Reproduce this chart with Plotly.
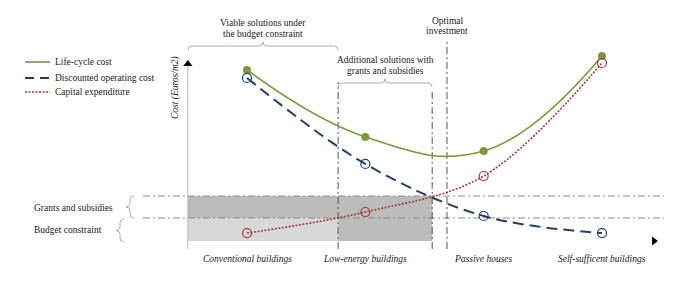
import plotly.graph_objects as go

# ---------------- data ----------------
categories = ["Conventional buildings", "Low-energy buildings",
              "Passive houses", "Self-sufficent buildings"]
life_cycle_cost = [95.0, 57.8, 50.0, 102.8]
operating_cost = [90.6, 42.8, 13.9, 4.4]
capital_expenditure = [4.4, 16.1, 36.1, 98.9]
series_names = ["Life-cycle cost", "Discounted operating cost", "Capital expenditure"]
budget_constraint = 12.8
grants_level = 25.0
viable_limit = 0.77
grants_limit = 1.565
optimal_position = 1.69

# ---------------- styles ----------------
GREEN = "#7a9a3c"
BLUE = "#24406a"
RED = "#a8393a"
GRAYLINE = "#8a8a8a"
FONT = "Liberation Serif"
TXT = "#222222"

W, H = 678, 284
X0, DX = 247.0, 118.33
Y0, DY = 241.0, 1.8


def X(px):
    return (px - X0) / DX


def Y(py):
    return (Y0 - py) / DY


AX = -0.5  # y-axis position (in category units)

fig = go.Figure()

xs = list(range(len(categories)))
fig.add_trace(go.Scatter(x=xs, y=life_cycle_cost, mode="lines+markers", name=series_names[0],
                         line=dict(color=GREEN, width=1.6, shape="spline", smoothing=1.2),
                         marker=dict(color=GREEN, size=8, symbol="circle"), showlegend=False))
fig.add_trace(go.Scatter(x=xs, y=operating_cost, mode="lines+markers", name=series_names[1],
                         line=dict(color=BLUE, width=2, dash="11px,6px", shape="spline", smoothing=1.0),
                         marker=dict(color=BLUE, size=9, symbol="circle-open", line=dict(width=1.2)),
                         showlegend=False))
fig.add_trace(go.Scatter(x=xs, y=capital_expenditure, mode="lines+markers", name=series_names[2],
                         line=dict(color=RED, width=1.6, dash="2px,1.5px", shape="spline", smoothing=1.0),
                         marker=dict(color=RED, size=9, symbol="circle-open", line=dict(width=1.2)),
                         showlegend=False))

# axis arrow heads
fig.add_trace(go.Scatter(x=[AX], y=[Y(64)], mode="markers", hoverinfo="skip", showlegend=False,
                         marker=dict(symbol="triangle-up", size=8, color="black")))
fig.add_trace(go.Scatter(x=[X(654)], y=[0], mode="markers", hoverinfo="skip", showlegend=False,
                         marker=dict(symbol="triangle-right", size=8, color="black")))

shapes = []
# shaded regions
shapes.append(dict(type="rect", xref="x", yref="y", x0=AX, x1=viable_limit, y0=0, y1=budget_constraint,
                   fillcolor="#d8d8d8", line=dict(width=0), layer="below"))
shapes.append(dict(type="rect", xref="x", yref="y", x0=AX, x1=grants_limit, y0=budget_constraint,
                   y1=grants_level, fillcolor="#bcbcbc", line=dict(width=0), layer="below"))
shapes.append(dict(type="rect", xref="x", yref="y", x0=viable_limit, x1=grants_limit, y0=0,
                   y1=budget_constraint, fillcolor="#bcbcbc", line=dict(width=0), layer="below"))
# horizontal dash-dot lines
for lvl in (budget_constraint, grants_level):
    shapes.append(dict(type="line", xref="x", yref="y", x0=X(143), x1=X(664), y0=lvl, y1=lvl,
                       line=dict(color=GRAYLINE, width=1, dash="7px,3px,2px,3px"), layer="below"))
# vertical dash-dot lines
for xv, top in ((viable_limit, 82), (grants_limit, 90), (optimal_position, 41)):
    shapes.append(dict(type="line", xref="x", yref="y", x0=xv, x1=xv, y0=Y(249), y1=Y(top),
                       line=dict(color="#555555", width=1, dash="7px,3px,2px,3px"), layer="below"))
# y axis line
shapes.append(dict(type="line", xref="x", yref="y", x0=AX, x1=AX, y0=Y(249), y1=Y(66),
                   line=dict(color="#bbbbbb", width=1), layer="below"))


def hbrace(x0, x1, ya, ym, yt, r=4):
    xm = (x0 + x1) / 2
    pts = [("M", x0, ya), ("Q", x0, ym), ("", x0 + r, ym), ("L", xm - r, ym), ("Q", xm, ym),
           ("", xm, yt), ("Q", xm, ym), ("", xm + r, ym), ("L", x1 - r, ym), ("Q", x1, ym), ("", x1, ya)]
    return " ".join(f"{c} {X(a):.5f},{Y(b):.5f}".strip() for c, a, b in pts)


def vbrace(xa, xm, xt, y0, y1, r=4):
    ymid = (y0 + y1) / 2
    pts = [("M", xa, y0), ("Q", xm, y0), ("", xm, y0 + r), ("L", xm, ymid - r), ("Q", xm, ymid),
           ("", xt, ymid), ("Q", xm, ymid), ("", xm, ymid + r), ("L", xm, y1 - r), ("Q", xm, y1), ("", xa, y1)]
    return " ".join(f"{c} {X(a):.5f},{Y(b):.5f}".strip() for c, a, b in pts)


BRACE = dict(color="#9a9a9a", width=0.8)
shapes.append(dict(type="path", xref="x", yref="y", path=hbrace(188, 338, 50, 46, 42), line=BRACE))
shapes.append(dict(type="path", xref="x", yref="y", path=hbrace(338, 432, 87, 83, 79), line=BRACE))
shapes.append(dict(type="path", xref="x", yref="y", path=vbrace(134, 130, 126, 196, 218), line=BRACE))
shapes.append(dict(type="path", xref="x", yref="y", path=vbrace(124, 120, 116, 219, 242), line=BRACE))

# manual legend
legend_styles = [dict(color=GREEN, width=1.6), dict(color=BLUE, width=2, dash="9px,6px"),
                 dict(color=RED, width=1.4, dash="2px,1.5px")]
legend_y = [62, 78, 92]
for st, ly in zip(legend_styles, legend_y):
    shapes.append(dict(type="line", xref="x", yref="y", x0=X(25), x1=X(50), y0=Y(ly), y1=Y(ly), line=st))

ann = []


def text(px, py, s, size=9.5, xanchor="center", italic=False, angle=0):
    ann.append(dict(x=X(px), y=Y(py), xref="x", yref="y", text=s, showarrow=False,
                    xanchor=xanchor, yanchor="middle", textangle=angle,
                    font=dict(family=FONT, size=size, color=TXT, style="italic" if italic else "normal")))


for name, ly in zip(series_names, legend_y):
    text(53, ly, name, xanchor="left")

text(263, 23, "Viable solutions under")
text(263, 34, "the budget constraint")
text(385, 60, "Additional solutions with")
text(385, 71, "grants and subsidies")
text(447, 21, "Optimal")
text(447, 31, "investment")
text(32, 208, "Grants and subsidies", xanchor="left")
text(32, 230, "Budget constraint", xanchor="left")
text(175, 88, "Cost (Euros/m2)", italic=True, angle=-90)
for i, c in enumerate(categories):
    ann.append(dict(x=i, y=Y(259), xref="x", yref="y", text=c, showarrow=False,
                    xanchor="center", yanchor="middle",
                    font=dict(family=FONT, size=9.5, color=TXT, style="italic")))

fig.update_layout(
    width=W, height=H, margin=dict(l=0, r=0, t=0, b=0),
    paper_bgcolor="white", plot_bgcolor="white",
    xaxis=dict(range=[X(0), X(W)], visible=False, fixedrange=True),
    yaxis=dict(range=[Y(H), Y(0)], visible=False, fixedrange=True),
    shapes=shapes, annotations=ann, showlegend=False,
)

fig.write_html("out.html", config={"displayModeBar": False},
               post_script="document.body.style.margin='0';document.body.style.overflow='hidden';")
